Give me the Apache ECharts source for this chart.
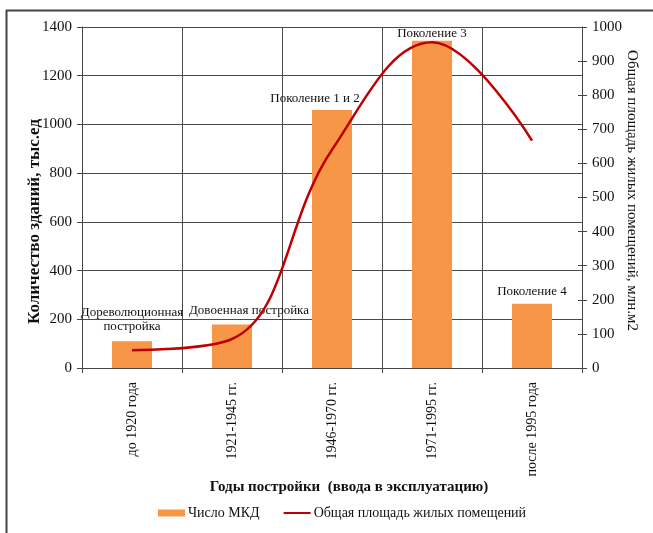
<!DOCTYPE html>
<html><head><meta charset="utf-8">
<script src="https://cdn.jsdelivr.net/npm/echarts@6/dist/echarts.min.js"></script>
<style>html,body{margin:0;padding:0;background:#fff;overflow:hidden}#c{width:653px;height:533px}</style>
</head><body><div id="c"></div>
<script>
const categories = ['до 1920 года', '1921-1945 гг.', '1946-1970 гг.', '1971-1995 гг.', 'после 1995 года'];
const buildingCounts = [110, 179, 1059, 1344, 264];
const livingArea = [52, 85, 640, 955, 667];
const barNotes = ['Дореволюционная\nпостройка', 'Довоенная постройка', 'Поколение 1 и 2', 'Поколение 3', 'Поколение 4'];
const leftTicks = { min: 0, max: 1400, interval: 200 };
const rightTicks = { min: 0, max: 1000, interval: 100 };

const noteOffsets = [[0, 0], [17, 0], [-17, 0], [0, 0], [0, 0]];
const noteDistances = [8, 7, 4, 0, 5];
const serif = '"Liberation Serif", "DejaVu Serif", serif';
const plain = v => String(v);

const chart = echarts.init(document.getElementById('c'));
chart.setOption({
  animation: false,
  backgroundColor: '#fff',
  textStyle: { fontFamily: serif, color: '#111' },
  grid: { left: 82, right: 71, top: 27, bottom: 165, containLabel: false, outerBoundsMode: 'none' },
  graphic: [
    { type: 'line', shape: { x1: 6, y1: 10.5, x2: 653, y2: 10.5 }, style: { stroke: '#444', lineWidth: 2 } },
    { type: 'line', shape: { x1: 6.5, y1: 10, x2: 6.5, y2: 533 }, style: { stroke: '#444', lineWidth: 2 } }
  ],
  legend: {
    top: 501, left: 153,
    itemWidth: 27, itemHeight: 7, itemGap: 23,
    textStyle: { fontFamily: serif, fontSize: 14, color: '#111', padding: [0, 0, 0, -2] },
    data: [
      { name: 'Число МКД', icon: 'rect' },
      { name: 'Общая площадь жилых помещений', itemStyle: { opacity: 0 } }
    ]
  },
  xAxis: {
    type: 'category', data: categories, boundaryGap: true,
    name: 'Годы постройки  (ввода в эксплуатацию)', nameLocation: 'middle', nameGap: 112, nameMoveOverlap: false,
    nameTextStyle: { fontFamily: serif, fontSize: 15, fontWeight: 'bold', color: '#111', padding: [0, 0, 0, 34] },
    axisLine: { lineStyle: { color: '#444', width: 1 } },
    axisTick: { show: true, length: 5, alignWithLabel: false, lineStyle: { color: '#444' } },
    axisLabel: { rotate: 90, margin: 14, fontFamily: serif, fontSize: 14, color: '#111' },
    splitLine: { show: true, lineStyle: { color: '#4a4a4a', width: 1 } }
  },
  yAxis: [
    {
      type: 'value', min: leftTicks.min, max: leftTicks.max, interval: leftTicks.interval, position: 'left',
      name: 'Количество зданий, тыс.ед', nameLocation: 'middle', nameGap: 39, nameRotate: 90, nameMoveOverlap: false,
      nameTextStyle: { fontFamily: serif, fontSize: 17, fontWeight: 'bold', color: '#111', padding: [0, 48, 0, 0] },
      axisLine: { show: true, lineStyle: { color: '#444' } },
      axisTick: { show: true, length: 5, lineStyle: { color: '#444' } },
      axisLabel: { margin: 10, fontFamily: serif, fontSize: 15, color: '#111', formatter: plain },
      splitLine: { show: true, lineStyle: { color: '#4a4a4a', width: 1 } }
    },
    {
      type: 'value', min: rightTicks.min, max: rightTicks.max, interval: rightTicks.interval, position: 'right',
      name: 'Общая площадь жилых помещений, млн.м2', nameLocation: 'middle', nameGap: 42, nameRotate: -90, nameMoveOverlap: false,
      nameTextStyle: { fontFamily: serif, fontSize: 15, color: '#111', padding: [0, 14, 0, 0] },
      axisLine: { show: true, lineStyle: { color: '#444' } },
      axisTick: { show: true, length: 5, lineStyle: { color: '#444' } },
      axisLabel: { margin: 10, fontFamily: serif, fontSize: 15, color: '#111', formatter: plain },
      splitLine: { show: false }
    },
    {
      type: 'value', min: rightTicks.min, max: rightTicks.max, interval: rightTicks.interval, position: 'right',
      axisLine: { show: false }, axisLabel: { show: false }, splitLine: { show: false },
      axisTick: { show: true, inside: true, length: 4, lineStyle: { color: '#444' } }
    }
  ],
  series: [
    {
      name: 'Число МКД', type: 'bar', yAxisIndex: 0, barWidth: 40,
      itemStyle: { color: '#F79646' },
      data: buildingCounts.map((v, i) => ({
        value: v,
        label: {
          show: true, position: 'top', formatter: barNotes[i],
          distance: noteDistances[i], offset: noteOffsets[i],
          fontFamily: serif, fontSize: 13, color: '#111', lineHeight: 14, align: 'center'
        }
      }))
    },
    {
      name: 'Общая площадь жилых помещений', type: 'line', yAxisIndex: 1,
      data: livingArea, smooth: 0.4, symbol: 'none', showSymbol: false,
      lineStyle: { color: '#C00000', width: 2.5 }, itemStyle: { color: '#C00000' }
    }
  ]
});
</script>
</body></html>
